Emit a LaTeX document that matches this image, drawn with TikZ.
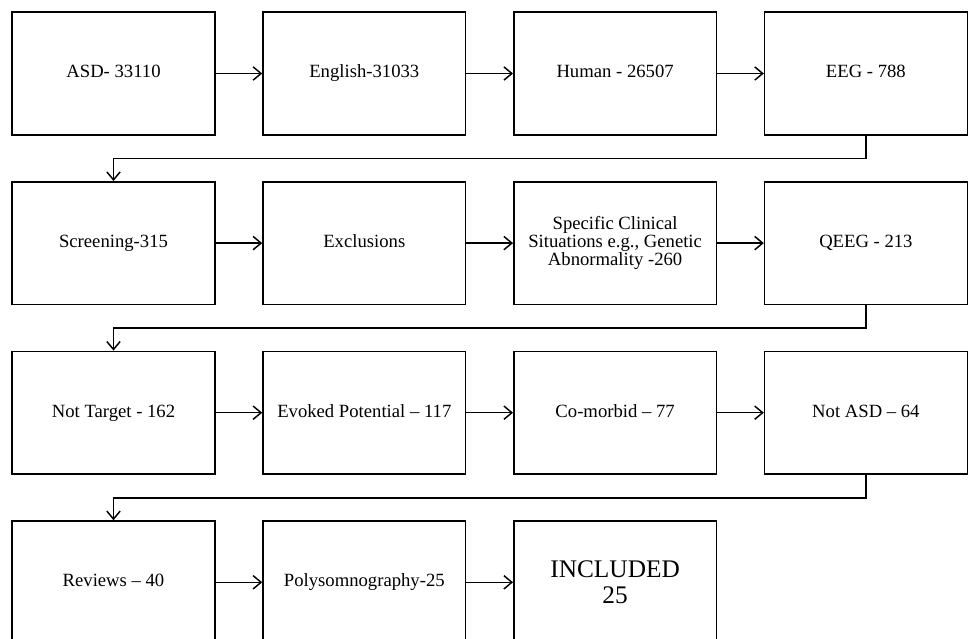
\documentclass[tikz,border=0pt]{standalone}
\usepackage{fontspec}
\setmainfont{Liberation Serif}
\usetikzlibrary{positioning}
\usetikzlibrary{arrows.meta}

\tikzset{
  stage/.style={draw, line width=1.1pt, minimum width=152pt, minimum height=92pt,
    inner sep=2pt, align=center, text height=9.5pt, text depth=3pt,
    font=\fontsize{14}{13.5}\selectfont},
  flow/.style={line width=1.1pt, -{Straight Barb[length=6pt,width=10pt]}},
}

\begin{document}
\begin{tikzpicture}[x=0.75pt, y=-0.75pt, node distance=34.1pt and 35pt]
  \useasboundingbox (0,0) rectangle (968,639);

  % first row
  \node at (113.5,73.5) [stage] (asd) {ASD- 33110};
  \node [stage, right=of asd] (english) {English-31033};
  \node [stage, right=of english] (human) {Human - 26507};
  \node [stage, right=of human] (eeg) {EEG - 788};

  % second row
  \node [stage, below=of asd] (screen) {Screening-315};
  \node [stage, right=of screen] (excl) {Exclusions};
  \node [stage, right=of excl, text height=, text depth=] (clinical) {Specific Clinical\\Situations e.g., Genetic\\Abnormality -260};
  \node [stage, right=of clinical] (qeeg) {QEEG - 213};

  % third row
  \node [stage, below=of screen] (target) {Not Target - 162};
  \node [stage, right=of target] (evoked) {Evoked Potential -- 117};
  \node [stage, right=of evoked] (comorbid) {Co-morbid -- 77};
  \node [stage, right=of comorbid] (notasd) {Not ASD -- 64};

  % last row
  \node [stage, below=of target] (reviews) {Reviews -- 40};
  \node [stage, right=of reviews] (poly) {Polysomnography-25};
  \node [stage, right=of poly, text height=, text depth=, font=\fontsize{19}{19}\selectfont] (incl) {INCLUDED\\25};

  \draw[flow] (asd) -- (english);
  \draw[flow] (english) -- (human);
  \draw[flow] (human) -- (eeg);
  \draw[flow] (eeg.south) -- ++(0,-17.25pt) -| (screen.north);

  \draw[flow] (screen) -- (excl);
  \draw[flow] (excl) -- (clinical);
  \draw[flow] (clinical) -- (qeeg);
  \draw[flow] (qeeg.south) -- ++(0,-17.25pt) -| (target.north);

  \draw[flow] (target) -- (evoked);
  \draw[flow] (evoked) -- (comorbid);
  \draw[flow] (comorbid) -- (notasd);
  \draw[flow] (notasd.south) -- ++(0,-17.25pt) -| (reviews.north);

  \draw[flow] (reviews) -- (poly);
  \draw[flow] (poly) -- (incl);
\end{tikzpicture}
\end{document}
